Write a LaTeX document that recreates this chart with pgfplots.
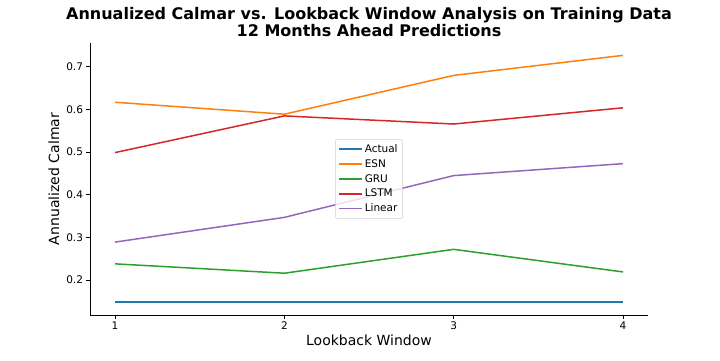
\documentclass[border=0pt]{standalone}
\usepackage{fontspec}
\setmainfont{DejaVu Sans}
\usepackage{pgfplots}
\pgfplotsset{compat=1.18}
\definecolor{tabblue}{HTML}{1F77B4}
\definecolor{taborange}{HTML}{FF7F0E}
\definecolor{tabgreen}{HTML}{2CA02C}
\definecolor{tabred}{HTML}{D62728}
\definecolor{tabpurple}{HTML}{9467BD}
\begin{document}
\begin{tikzpicture}
\path[use as bounding box] (-90pt,-45pt) rectangle (630pt,315pt);
\begin{axis}[
    at={(0,0)}, anchor=south west,
    scale only axis,
    width=558pt, height=272pt,
    xmin=0.852, xmax=4.148,
    ymin=0.118, ymax=0.756,
    xtick={1,2,3,4},
    ytick={0.2,0.3,0.4,0.5,0.6,0.7},
    yticklabel style={/pgf/number format/.cd,fixed,precision=1,fixed zerofill},
    /pgf/number format/assume math mode=true,
    ticklabel style={font=\fontsize{10.5}{12}\selectfont},
    axis lines*=left,
    axis line style={line width=0.8pt},
    tick style={black, line width=0.8pt},
    tick align=outside,
    major tick length=3.5pt,
    xlabel={Lookback Window},
    ylabel={Annualized Calmar},
    label style={font=\fontsize{14}{16}\selectfont},
    xlabel style={yshift=2pt},
    ylabel style={yshift=0pt},
    title={Annualized Calmar vs. Lookback Window Analysis on Training Data\\12 Months Ahead Predictions},
    title style={font=\bfseries\fontsize{16}{17}\selectfont, align=center, yshift=-3pt},
    legend style={at={(0.5,0.5)}, anchor=center, draw=black!20, rounded corners=2pt,
        font=\fontsize{10.5}{12}\selectfont, inner xsep=3pt, inner ysep=3pt, row sep=1.5pt,
        fill=white, fill opacity=0.8, text opacity=1},
    legend cell align=left,
    legend image post style={xscale=1.3},
]
\addplot[tabblue, line width=2.2pt] coordinates {(1,0.148) (2,0.148) (3,0.148) (4,0.148)};
\addlegendentry{Actual}
\addplot[taborange, line width=1.5pt] coordinates {(1,0.617) (2,0.589) (3,0.680) (4,0.727)};
\addlegendentry{ESN}
\addplot[tabgreen, line width=1.5pt] coordinates {(1,0.238) (2,0.216) (3,0.272) (4,0.219)};
\addlegendentry{GRU}
\addplot[tabred, line width=1.5pt] coordinates {(1,0.499) (2,0.585) (3,0.566) (4,0.604)};
\addlegendentry{LSTM}
\addplot[tabpurple, line width=1.5pt] coordinates {(1,0.289) (2,0.347) (3,0.445) (4,0.473)};
\addlegendentry{Linear}
\end{axis}
\end{tikzpicture}
\end{document}
